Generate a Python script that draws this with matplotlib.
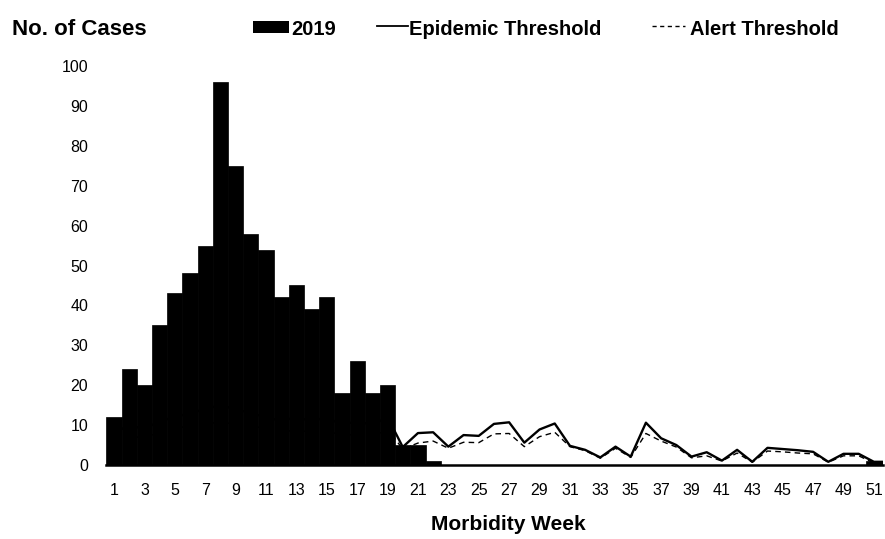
import matplotlib
matplotlib.use("Agg")
import matplotlib.pyplot as plt
from matplotlib.lines import Line2D
from matplotlib.patches import Rectangle

plt.rcParams['font.family'] = ['Liberation Sans', 'DejaVu Sans']

weeks = list(range(1, 53))
cases_2019 = [12, 24, 20, 35, 43, 48, 55, 96, 75, 58, 54, 42, 45, 39, 42, 18, 26, 18, 20, 5,
              5, 1, 0, 0, 0, 0, 0, 0, 0, 0, 0, 0, 0, 0, 0, 0, 0, 0, 0, 0,
              0, 0, 0, 0, 0, 0, 0, 0, 0, 0, 1, 1]
epidemic = [8, 10, 9, 11, 12, 13, 14, 15, 14, 13, 12, 11, 12, 11, 12, 10, 11, 10, 12, 4.5,
            8, 8.2, 4.6, 7.5, 7.3, 10.3, 10.7, 5.6, 8.9, 10.4, 4.8, 3.8, 1.9, 4.6, 2.1, 10.6, 6.7, 5, 2.1, 3.2,
            1.1, 3.8, 0.8, 4.3, 4.0, 3.7, 3.3, 0.8, 2.8, 2.8, 0.8, 0.8]
alert = [6, 7, 7, 8, 9, 10, 10, 11, 10, 10, 9, 8, 9, 8, 9, 7, 8, 7, 9, 4,
         5.5, 6, 4.2, 5.7, 5.6, 7.8, 7.9, 4.6, 7.1, 8.2, 4.6, 3.6, 1.7, 4.2, 1.9, 7.9, 6, 4.5, 1.8, 2.3,
         1, 3, 0.7, 3.5, 3.3, 3, 2.8, 0.7, 2.3, 2.3, 0.5, 0.5]
xtick_labels = [str(w) for w in range(1, 52, 2)]
yticks = list(range(0, 101, 10))
legend_labels = ['2019', 'Epidemic Threshold', 'Alert Threshold']

W, H = 885, 539
def fx(px):
    return px / W
def fy(py):
    return 1 - py / H

fig = plt.figure(figsize=(8.85, 5.39), dpi=100)
ax = fig.add_axes([fx(106.4), fy(465), (883 - 106.4) / W, (465 - 66) / H])

ax.plot(weeks, epidemic, color='black', lw=1.7, zorder=1)
ax.plot(weeks, alert, color='black', lw=1.0, ls=(0, (4, 3)), zorder=1)
ax.bar(weeks, cases_2019, width=1.0, color='black', edgecolor='black', lw=0.5, zorder=2)

ax.set_xlim(0.5, 51.6)
ax.set_ylim(0, 100)
ax.set_xticks(list(range(1, 52, 2)))
ax.set_xticklabels(xtick_labels)
ax.set_yticks(yticks)
for s in ['top', 'right', 'left']:
    ax.spines[s].set_visible(False)
ax.spines['bottom'].set_linewidth(1.8)
ax.tick_params(axis='x', length=0, pad=13, labelsize=11.5)
ax.tick_params(axis='y', length=0, pad=13, labelsize=11.5)

fig.text(fx(508), fy(530), 'Morbidity Week', fontsize=15, fontweight='bold',
         ha='center', va='baseline')
fig.text(fx(12), fy(35), 'No. of Cases', fontsize=16, fontweight='bold',
         ha='left', va='baseline')

# legend
fig.add_artist(Rectangle((fx(253), fy(33)), (289 - 253) / W, 12 / H, facecolor='black',
                         edgecolor='none', transform=fig.transFigure))
fig.text(fx(291), fy(35), legend_labels[0], fontsize=14.5, fontweight='bold', ha='left', va='baseline')
fig.add_artist(Line2D([fx(377), fx(408)], [fy(26), fy(26)], color='black', lw=1.3,
                      transform=fig.transFigure))
fig.text(fx(409), fy(35), legend_labels[1], fontsize=14.5, fontweight='bold', ha='left', va='baseline')
fig.add_artist(Line2D([fx(652), fx(685)], [fy(26), fy(26)], color='black', lw=1.0,
                      ls=(0, (3, 2.5)), transform=fig.transFigure))
fig.text(fx(690), fy(35), legend_labels[2], fontsize=14.5, fontweight='bold', ha='left', va='baseline')

fig.savefig('out.png', dpi=100)
